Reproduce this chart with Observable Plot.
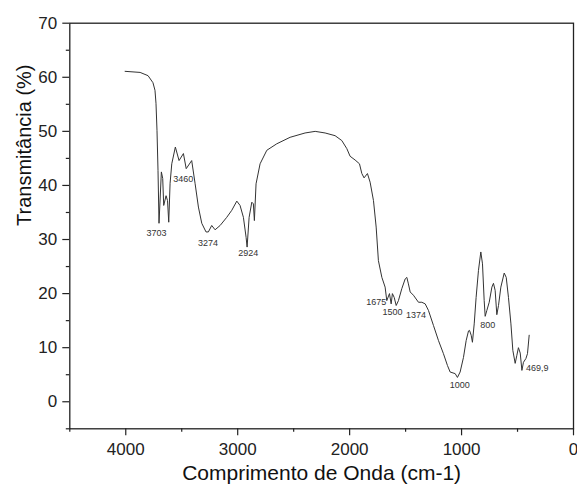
<!DOCTYPE html>
<html><head><meta charset="utf-8">
<script src="https://cdn.jsdelivr.net/npm/d3@7"></script>
<script src="https://cdn.jsdelivr.net/npm/@observablehq/plot@0.6"></script>
<style>body{margin:0;background:#fff;}</style>
</head><body><div id="chart"></div>
<script>
const wavenumber = [4006,3872,3801,3757,3739,3730,3721,3712,3703,3682,3670,3661,3640,3627,3616,3604,3589,3557,3524,3485,3460,3411,3381,3351,3321,3283,3262,3232,3202,3157,3098,3053,3008,2979,2949,2925,2916,2898,2874,2860,2851,2836,2800,2740,2651,2532,2398,2308,2219,2130,2070,2025,1996,1951,1912,1891,1871,1841,1817,1787,1763,1743,1712,1683,1668,1644,1629,1618,1602,1584,1564,1534,1504,1489,1475,1459,1430,1385,1355,1325,1296,1251,1206,1162,1126,1102,1057,1037,1013,983,959,938,929,914,903,887,870,849,828,813,798,789,774,753,729,715,700,685,670,649,619,601,581,559,542,521,506,492,476,461,447,425,411,396];
const transmittance = [61.1,60.9,60.3,59.0,57.6,55.2,50.2,42.8,33.0,42.5,41.3,36.3,38.1,37.2,33.2,40.4,44.0,47.1,44.6,45.9,43.1,44.6,40.4,36.0,33.0,31.4,31.4,32.6,31.8,32.6,34.1,35.4,37.1,36.3,34.1,30.4,28.6,34.1,36.9,36.6,33.5,40.3,44.0,46.5,47.7,48.9,49.7,50.0,49.7,49.2,48.3,46.8,45.4,44.7,44.0,42.2,41.4,42.2,40.6,37.2,32.3,26.1,23.0,21.2,18.7,20.0,18.1,20.0,19.3,17.8,18.7,20.9,22.7,23.0,21.8,20.3,19.7,18.4,18.4,18.1,16.9,14.1,11.3,8.9,6.7,5.5,5.2,4.5,5.5,8.2,11.3,13.1,13.2,12.3,11.0,14.4,19.3,24.3,27.7,25.5,18.7,15.8,16.9,18.4,21.2,21.9,20.6,16.1,17.8,21.2,23.8,23.0,19.3,14.4,9.5,7.1,8.6,10.0,9.0,5.8,7.3,8.0,8.9,12.3];

const peakLabels = ["3703","3460","3274","2924","1675","1500","1374","800","1000","469,9"];
const peakLabelX = [3726,3486,3265,2905,1762,1616,1408,767,1017,324];
const peakLabelY = [31.2,41.1,29.4,27.4,18.5,16.6,16.0,14.2,3.1,6.2];

const xTicks = [4000,3000,2000,1000,0];
const xMinorTicks = [4500,3500,2500,1500,500];
const yTicks = [0,10,20,30,40,50,60,70];
const yMinorTicks = [-5,5,15,25,35,45,55,65];
const xTitle = "Comprimento de Onda (cm-1)";
const yTitle = "Transmitância (%)";

const spectrum = wavenumber.map((w, i) => ({w, t: transmittance[i]}));
const labels = peakLabels.map((s, i) => ({s, w: peakLabelX[i], t: peakLabelY[i]}));

const plot = Plot.plot({
  width: 577, height: 491,
  marginLeft: 69.3, marginRight: 4, marginTop: 22.7, marginBottom: 62.7,
  style: {fontFamily: "'Liberation Sans', Arial, sans-serif", color: "#222", background: "#fff", overflow: "visible"},
  x: {domain: [4500, 0]},
  y: {domain: [-5, 70]},
  marks: [
    Plot.axisX({ticks: xMinorTicks, tickSize: 3.5, tickFormat: () => "", label: null, strokeWidth: 1.2}),
    Plot.axisX({ticks: xTicks, tickSize: 7, tickPadding: 7.4, tickFormat: d => String(d), fontSize: 17, label: null, strokeWidth: 1.2}),
    Plot.axisY({ticks: yMinorTicks, tickSize: 3.5, tickFormat: () => "", label: null, strokeWidth: 1.2}),
    Plot.axisY({ticks: yTicks, tickSize: 7, tickPadding: 5.6, tickFormat: d => String(d), fontSize: 17, label: null, strokeWidth: 1.2}),
    Plot.frame({stroke: "#222", strokeWidth: 1.3}),
    Plot.line(spectrum, {x: "w", y: "t", stroke: "#333", strokeWidth: 1}),
    Plot.text(labels, {x: "w", y: "t", text: "s", fontSize: 9, fill: "#333"}),
    Plot.text([xTitle], {frameAnchor: "bottom", dy: 51.4, text: d => d, fontSize: 21, fill: "#111"}),
    Plot.text([yTitle], {frameAnchor: "left", dx: -45, rotate: -90, text: d => d, fontSize: 20, fill: "#111"})
  ]
});
document.getElementById("chart").appendChild(plot);
</script>
</body></html>
